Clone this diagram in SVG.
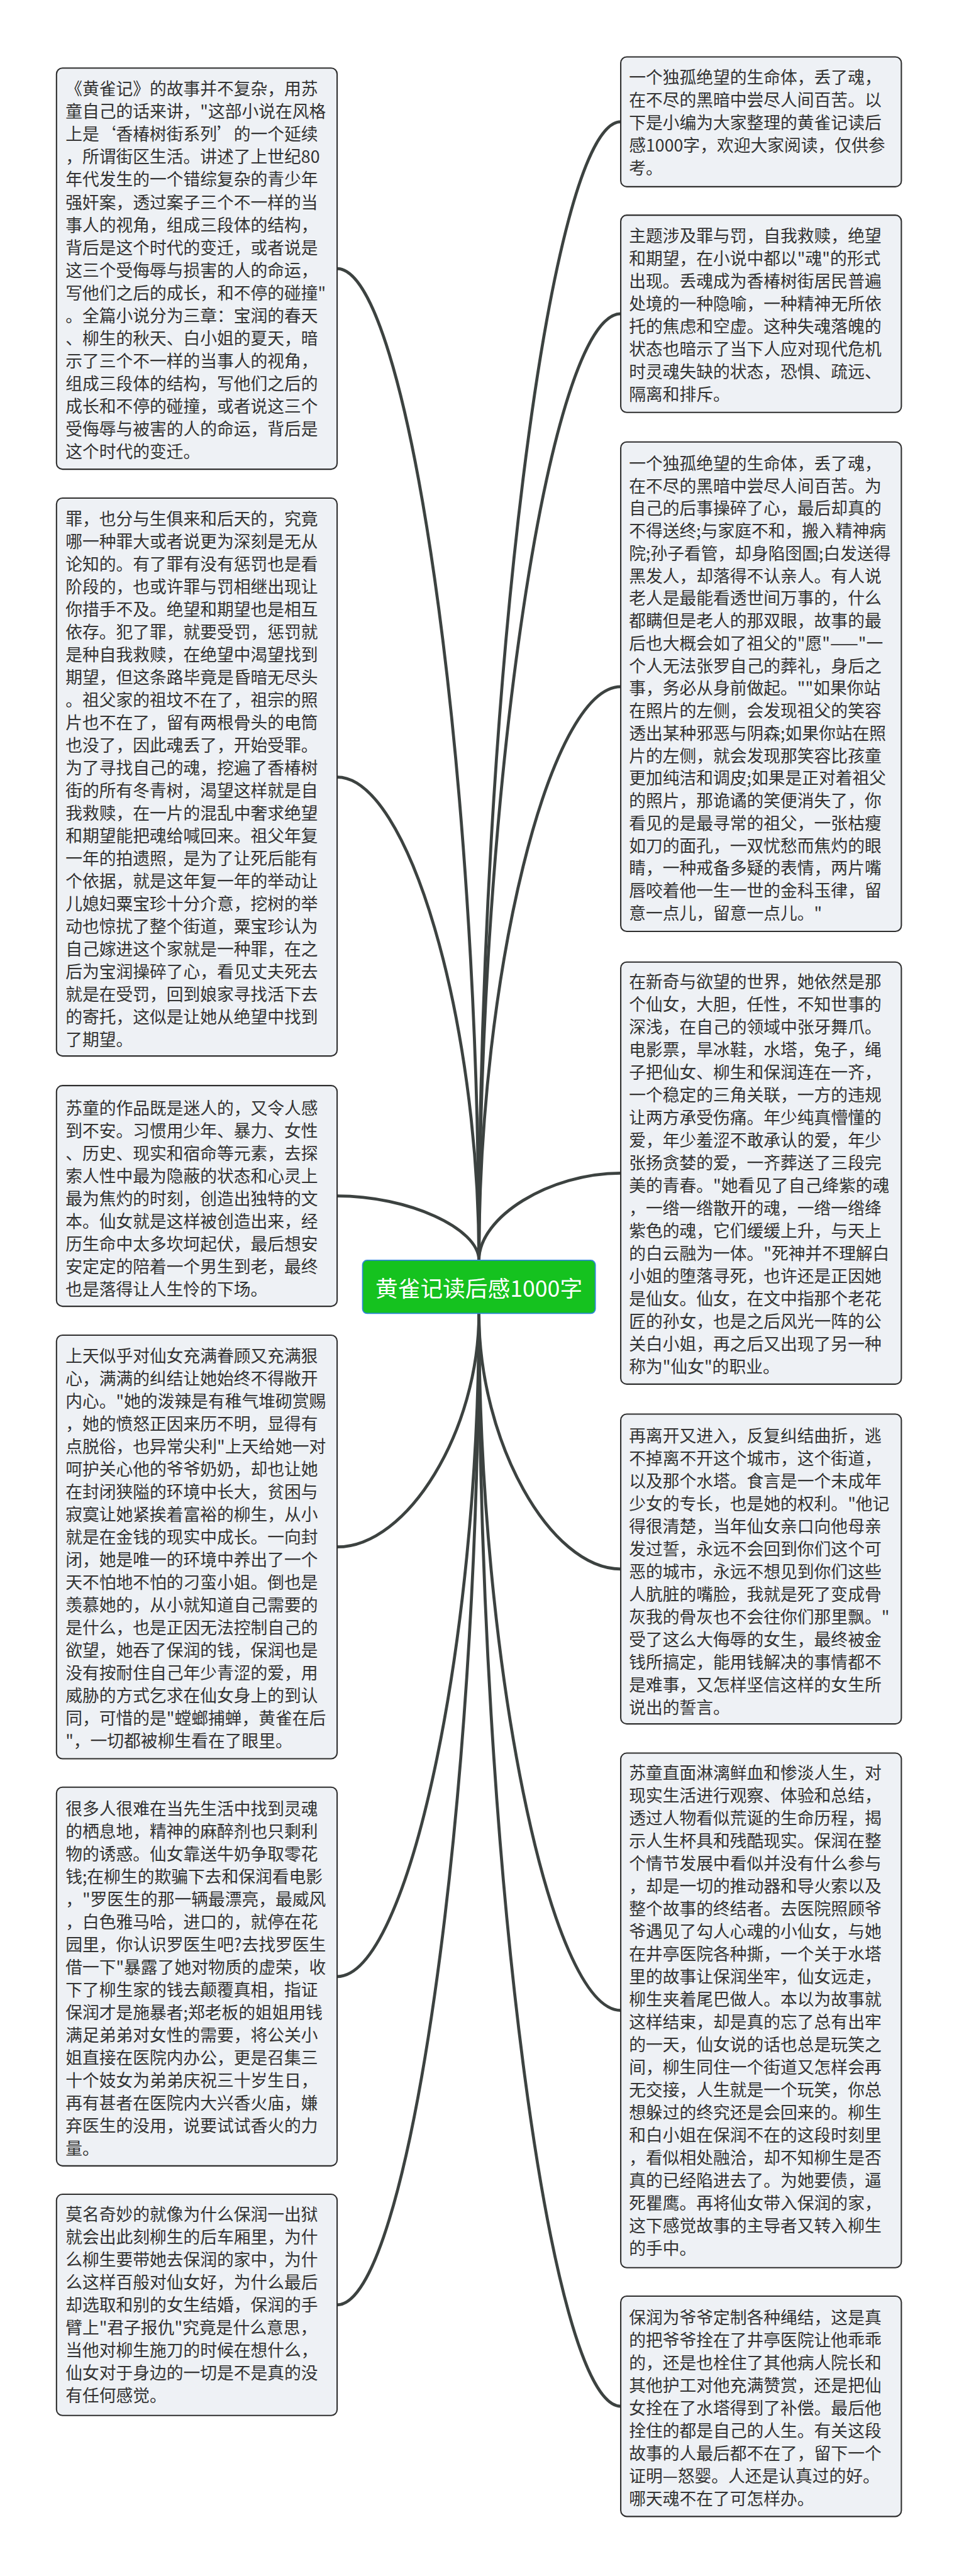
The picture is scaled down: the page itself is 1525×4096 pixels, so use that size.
<svg xmlns="http://www.w3.org/2000/svg" width="1525" height="4096" viewBox="0 0 1525 4096">
<style>
.box{fill:#eef1f5;stroke:#2e2e2e;stroke-width:3.5}
.t{font-family:"Noto Sans CJK SC","Noto Sans",sans-serif;font-size:45px;fill:#333333;dominant-baseline:central}
.c{fill:none;stroke:#3c4240;stroke-width:8;stroke-linecap:round}
.root{fill:#15c21f;stroke:#2f86d8;stroke-width:3}
.rt{font-family:"Noto Sans CJK SC","Noto Sans",sans-serif;font-size:60px;fill:#ffffff;text-anchor:middle;dominant-baseline:central}
</style>
<rect width="1525" height="4096" fill="#ffffff"/>
<g transform="scale(0.595)">
<g id="connectors">
<path class="c" d="M901,718 C1090.5,718 1280,2043 1280,3368"/>
<path class="c" d="M901,2076.5 C1090.5,2076.5 1280,2722 1280,3368"/>
<path class="c" d="M901,3196 C1090.5,3196 1280,3282 1280,3368"/>
<path class="c" d="M901,4134 C1090.5,4134 1280,3822 1280,3510"/>
<path class="c" d="M901,5282 C1090.5,5282 1280,4396 1280,3510"/>
<path class="c" d="M901,6159.5 C1090.5,6159.5 1280,4834.75 1280,3510"/>
<path class="c" d="M1659,325.5 C1469.5,325.5 1280,1846.75 1280,3368"/>
<path class="c" d="M1659,838.5 C1469.5,838.5 1280,2103.25 1280,3368"/>
<path class="c" d="M1659,1835 C1469.5,1835 1280,2601.5 1280,3368"/>
<path class="c" d="M1659,3135 C1469.5,3135 1280,3251.5 1280,3368"/>
<path class="c" d="M1659,4193 C1469.5,4193 1280,3851.5 1280,3510"/>
<path class="c" d="M1659,5372.5 C1469.5,5372.5 1280,4441.25 1280,3510"/>
<path class="c" d="M1659,6430.5 C1469.5,6430.5 1280,4970.25 1280,3510"/>
</g>
<g id="root">
<rect class="root" x="969" y="3368" width="622" height="142" rx="12"/>
<text class="rt" x="1280" y="3439">黄雀记读后感1000字</text>
</g>
<g id="L1">
<rect class="box" x="151" y="182" width="750" height="1072" rx="16"/>
<text class="t" x="175" y="234"><tspan x="175" dy="0">《黄雀记》的故事并不复杂，用苏</tspan><tspan x="175" dy="60.6">童自己的话来讲，"这部小说在风格</tspan><tspan x="175" dy="60.6">上是‘香椿树街系列’的一个延续</tspan><tspan x="175" dy="60.6">，所谓街区生活。讲述了上世纪80</tspan><tspan x="175" dy="60.6">年代发生的一个错综复杂的青少年</tspan><tspan x="175" dy="60.6">强奸案，透过案子三个不一样的当</tspan><tspan x="175" dy="60.6">事人的视角，组成三段体的结构，</tspan><tspan x="175" dy="60.6">背后是这个时代的变迁，或者说是</tspan><tspan x="175" dy="60.6">这三个受侮辱与损害的人的命运，</tspan><tspan x="175" dy="60.6">写他们之后的成长，和不停的碰撞"</tspan><tspan x="175" dy="60.6">。全篇小说分为三章：宝润的春天</tspan><tspan x="175" dy="60.6">、柳生的秋天、白小姐的夏天，暗</tspan><tspan x="175" dy="60.6">示了三个不一样的当事人的视角，</tspan><tspan x="175" dy="60.6">组成三段体的结构，写他们之后的</tspan><tspan x="175" dy="60.6">成长和不停的碰撞，或者说这三个</tspan><tspan x="175" dy="60.6">受侮辱与被害的人的命运，背后是</tspan><tspan x="175" dy="60.6">这个时代的变迁。</tspan></text>
</g>
<g id="L2">
<rect class="box" x="151" y="1331" width="750" height="1491" rx="16"/>
<text class="t" x="175" y="1383"><tspan x="175" dy="0">罪，也分与生俱来和后天的，究竟</tspan><tspan x="175" dy="60.5">哪一种罪大或者说更为深刻是无从</tspan><tspan x="175" dy="60.5">论知的。有了罪有没有惩罚也是看</tspan><tspan x="175" dy="60.5">阶段的，也或许罪与罚相继出现让</tspan><tspan x="175" dy="60.5">你措手不及。绝望和期望也是相互</tspan><tspan x="175" dy="60.5">依存。犯了罪，就要受罚，惩罚就</tspan><tspan x="175" dy="60.5">是种自我救赎，在绝望中渴望找到</tspan><tspan x="175" dy="60.5">期望，但这条路毕竟是昏暗无尽头</tspan><tspan x="175" dy="60.5">。祖父家的祖坟不在了，祖宗的照</tspan><tspan x="175" dy="60.5">片也不在了，留有两根骨头的电筒</tspan><tspan x="175" dy="60.5">也没了，因此魂丢了，开始受罪。</tspan><tspan x="175" dy="60.5">为了寻找自己的魂，挖遍了香椿树</tspan><tspan x="175" dy="60.5">街的所有冬青树，渴望这样就是自</tspan><tspan x="175" dy="60.5">我救赎，在一片的混乱中奢求绝望</tspan><tspan x="175" dy="60.5">和期望能把魂给喊回来。祖父年复</tspan><tspan x="175" dy="60.5">一年的拍遗照，是为了让死后能有</tspan><tspan x="175" dy="60.5">个依据，就是这年复一年的举动让</tspan><tspan x="175" dy="60.5">儿媳妇粟宝珍十分介意，挖树的举</tspan><tspan x="175" dy="60.5">动也惊扰了整个街道，粟宝珍认为</tspan><tspan x="175" dy="60.5">自己嫁进这个家就是一种罪，在之</tspan><tspan x="175" dy="60.5">后为宝润操碎了心，看见丈夫死去</tspan><tspan x="175" dy="60.5">就是在受罚，回到娘家寻找活下去</tspan><tspan x="175" dy="60.5">的寄托，这似是让她从绝望中找到</tspan><tspan x="175" dy="60.5">了期望。</tspan></text>
</g>
<g id="L3">
<rect class="box" x="151" y="2901" width="750" height="590" rx="16"/>
<text class="t" x="175" y="2958"><tspan x="175" dy="0">苏童的作品既是迷人的，又令人感</tspan><tspan x="175" dy="60.5">到不安。习惯用少年、暴力、女性</tspan><tspan x="175" dy="60.5">、历史、现实和宿命等元素，去探</tspan><tspan x="175" dy="60.5">索人性中最为隐蔽的状态和心灵上</tspan><tspan x="175" dy="60.5">最为焦灼的时刻，创造出独特的文</tspan><tspan x="175" dy="60.5">本。仙女就是这样被创造出来，经</tspan><tspan x="175" dy="60.5">历生命中太多坎坷起伏，最后想安</tspan><tspan x="175" dy="60.5">安定定的陪着一个男生到老，最终</tspan><tspan x="175" dy="60.5">也是落得让人生怜的下场。</tspan></text>
</g>
<g id="L4">
<rect class="box" x="151" y="3568" width="750" height="1132" rx="16"/>
<text class="t" x="175" y="3620"><tspan x="175" dy="0">上天似乎对仙女充满眷顾又充满狠</tspan><tspan x="175" dy="60.5">心，满满的纠结让她始终不得敞开</tspan><tspan x="175" dy="60.5">内心。"她的泼辣是有稚气堆砌赏赐</tspan><tspan x="175" dy="60.5">，她的愤怒正因来历不明，显得有</tspan><tspan x="175" dy="60.5">点脱俗，也异常尖利"上天给她一对</tspan><tspan x="175" dy="60.5">呵护关心他的爷爷奶奶，却也让她</tspan><tspan x="175" dy="60.5">在封闭狭隘的环境中长大，贫困与</tspan><tspan x="175" dy="60.5">寂寞让她紧挨着富裕的柳生，从小</tspan><tspan x="175" dy="60.5">就是在金钱的现实中成长。一向封</tspan><tspan x="175" dy="60.5">闭，她是唯一的环境中养出了一个</tspan><tspan x="175" dy="60.5">天不怕地不怕的刁蛮小姐。倒也是</tspan><tspan x="175" dy="60.5">羡慕她的，从小就知道自己需要的</tspan><tspan x="175" dy="60.5">是什么，也是正因无法控制自己的</tspan><tspan x="175" dy="60.5">欲望，她吞了保润的钱，保润也是</tspan><tspan x="175" dy="60.5">没有按耐住自己年少青涩的爱，用</tspan><tspan x="175" dy="60.5">威胁的方式乞求在仙女身上的到认</tspan><tspan x="175" dy="60.5">同，可惜的是"螳螂捕蝉，黄雀在后</tspan><tspan x="175" dy="60.5">"，一切都被柳生看在了眼里。</tspan></text>
</g>
<g id="L5">
<rect class="box" x="151" y="4776" width="750" height="1012" rx="16"/>
<text class="t" x="175" y="4830"><tspan x="175" dy="0">很多人很难在当先生活中找到灵魂</tspan><tspan x="175" dy="60.5">的栖息地，精神的麻醉剂也只剩利</tspan><tspan x="175" dy="60.5">物的诱惑。仙女靠送牛奶争取零花</tspan><tspan x="175" dy="60.5">钱;在柳生的欺骗下去和保润看电影</tspan><tspan x="175" dy="60.5">，"罗医生的那一辆最漂亮，最威风</tspan><tspan x="175" dy="60.5">，白色雅马哈，进口的，就停在花</tspan><tspan x="175" dy="60.5">园里，你认识罗医生吧?去找罗医生</tspan><tspan x="175" dy="60.5">借一下"暴露了她对物质的虚荣，收</tspan><tspan x="175" dy="60.5">下了柳生家的钱去颠覆真相，指证</tspan><tspan x="175" dy="60.5">保润才是施暴者;郑老板的姐姐用钱</tspan><tspan x="175" dy="60.5">满足弟弟对女性的需要，将公关小</tspan><tspan x="175" dy="60.5">姐直接在医院内办公，更是召集三</tspan><tspan x="175" dy="60.5">十个妓女为弟弟庆祝三十岁生日，</tspan><tspan x="175" dy="60.5">再有甚者在医院内大兴香火庙，嫌</tspan><tspan x="175" dy="60.5">弃医生的没用，说要试试香火的力</tspan><tspan x="175" dy="60.5">量。</tspan></text>
</g>
<g id="L6">
<rect class="box" x="151" y="5864" width="750" height="591" rx="16"/>
<text class="t" x="175" y="5914"><tspan x="175" dy="0">莫名奇妙的就像为什么保润一出狱</tspan><tspan x="175" dy="60.5">就会出此刻柳生的后车厢里，为什</tspan><tspan x="175" dy="60.5">么柳生要带她去保润的家中，为什</tspan><tspan x="175" dy="60.5">么这样百般对仙女好，为什么最后</tspan><tspan x="175" dy="60.5">却选取和别的女生结婚，保润的手</tspan><tspan x="175" dy="60.5">臂上"君子报仇"究竟是什么意思，</tspan><tspan x="175" dy="60.5">当他对柳生施刀的时候在想什么，</tspan><tspan x="175" dy="60.5">仙女对于身边的一切是不是真的没</tspan><tspan x="175" dy="60.5">有任何感觉。</tspan></text>
</g>
<g id="R1">
<rect class="box" x="1659" y="152" width="750" height="347" rx="16"/>
<text class="t" x="1681" y="203"><tspan x="1681" dy="0">一个独孤绝望的生命体，丢了魂，</tspan><tspan x="1681" dy="60.5">在不尽的黑暗中尝尽人间百苦。以</tspan><tspan x="1681" dy="60.5">下是小编为大家整理的黄雀记读后</tspan><tspan x="1681" dy="60.5">感1000字，欢迎大家阅读，仅供参</tspan><tspan x="1681" dy="60.5">考。</tspan></text>
</g>
<g id="R2">
<rect class="box" x="1659" y="575" width="750" height="527" rx="16"/>
<text class="t" x="1681" y="627"><tspan x="1681" dy="0">主题涉及罪与罚，自我救赎，绝望</tspan><tspan x="1681" dy="60.5">和期望，在小说中都以"魂"的形式</tspan><tspan x="1681" dy="60.5">出现。丢魂成为香椿树街居民普遍</tspan><tspan x="1681" dy="60.5">处境的一种隐喻，一种精神无所依</tspan><tspan x="1681" dy="60.5">托的焦虑和空虚。这种失魂落魄的</tspan><tspan x="1681" dy="60.5">状态也暗示了当下人应对现代危机</tspan><tspan x="1681" dy="60.5">时灵魂失缺的状态，恐惧、疏远、</tspan><tspan x="1681" dy="60.5">隔离和排斥。</tspan></text>
</g>
<g id="R3">
<rect class="box" x="1659" y="1181" width="750" height="1308" rx="16"/>
<text class="t" x="1681" y="1235"><tspan x="1681" dy="0">一个独孤绝望的生命体，丢了魂，</tspan><tspan x="1681" dy="60.1">在不尽的黑暗中尝尽人间百苦。为</tspan><tspan x="1681" dy="60.1">自己的后事操碎了心，最后却真的</tspan><tspan x="1681" dy="60.1">不得送终;与家庭不和，搬入精神病</tspan><tspan x="1681" dy="60.1">院;孙子看管，却身陷囹圄;白发送得</tspan><tspan x="1681" dy="60.1">黑发人，却落得不认亲人。有人说</tspan><tspan x="1681" dy="60.1">老人是最能看透世间万事的，什么</tspan><tspan x="1681" dy="60.1">都瞒但是老人的那双眼，故事的最</tspan><tspan x="1681" dy="60.1">后也大概会如了祖父的"愿"——"一</tspan><tspan x="1681" dy="60.1">个人无法张罗自己的葬礼，身后之</tspan><tspan x="1681" dy="60.1">事，务必从身前做起。""如果你站</tspan><tspan x="1681" dy="60.1">在照片的左侧，会发现祖父的笑容</tspan><tspan x="1681" dy="60.1">透出某种邪恶与阴森;如果你站在照</tspan><tspan x="1681" dy="60.1">片的左侧，就会发现那笑容比孩童</tspan><tspan x="1681" dy="60.1">更加纯洁和调皮;如果是正对着祖父</tspan><tspan x="1681" dy="60.1">的照片，那诡谲的笑便消失了，你</tspan><tspan x="1681" dy="60.1">看见的是最寻常的祖父，一张枯瘦</tspan><tspan x="1681" dy="60.1">如刀的面孔，一双忧愁而焦灼的眼</tspan><tspan x="1681" dy="60.1">睛，一种戒备多疑的表情，两片嘴</tspan><tspan x="1681" dy="60.1">唇咬着他一生一世的金科玉律，留</tspan><tspan x="1681" dy="60.1">意一点儿，留意一点儿。"</tspan></text>
</g>
<g id="R4">
<rect class="box" x="1659" y="2571" width="750" height="1128" rx="16"/>
<text class="t" x="1681" y="2621"><tspan x="1681" dy="0">在新奇与欲望的世界，她依然是那</tspan><tspan x="1681" dy="60.5">个仙女，大胆，任性，不知世事的</tspan><tspan x="1681" dy="60.5">深浅，在自己的领域中张牙舞爪。</tspan><tspan x="1681" dy="60.5">电影票，旱冰鞋，水塔，兔子，绳</tspan><tspan x="1681" dy="60.5">子把仙女、柳生和保润连在一齐，</tspan><tspan x="1681" dy="60.5">一个稳定的三角关联，一方的违规</tspan><tspan x="1681" dy="60.5">让两方承受伤痛。年少纯真懵懂的</tspan><tspan x="1681" dy="60.5">爱，年少羞涩不敢承认的爱，年少</tspan><tspan x="1681" dy="60.5">张扬贪婪的爱，一齐葬送了三段完</tspan><tspan x="1681" dy="60.5">美的青春。"她看见了自己绛紫的魂</tspan><tspan x="1681" dy="60.5">，一绺一绺散开的魂，一绺一绺绛</tspan><tspan x="1681" dy="60.5">紫色的魂，它们缓缓上升，与天上</tspan><tspan x="1681" dy="60.5">的白云融为一体。"死神并不理解白</tspan><tspan x="1681" dy="60.5">小姐的堕落寻死，也许还是正因她</tspan><tspan x="1681" dy="60.5">是仙女。仙女，在文中指那个老花</tspan><tspan x="1681" dy="60.5">匠的孙女，也是之后风光一阵的公</tspan><tspan x="1681" dy="60.5">关白小姐，再之后又出现了另一种</tspan><tspan x="1681" dy="60.5">称为"仙女"的职业。</tspan></text>
</g>
<g id="R5">
<rect class="box" x="1659" y="3779" width="750" height="828" rx="16"/>
<text class="t" x="1681" y="3833"><tspan x="1681" dy="0">再离开又进入，反复纠结曲折，逃</tspan><tspan x="1681" dy="60.5">不掉离不开这个城市，这个街道，</tspan><tspan x="1681" dy="60.5">以及那个水塔。食言是一个未成年</tspan><tspan x="1681" dy="60.5">少女的专长，也是她的权利。"他记</tspan><tspan x="1681" dy="60.5">得很清楚，当年仙女亲口向他母亲</tspan><tspan x="1681" dy="60.5">发过誓，永远不会回到你们这个可</tspan><tspan x="1681" dy="60.5">恶的城市，永远不想见到你们这些</tspan><tspan x="1681" dy="60.5">人肮脏的嘴脸，我就是死了变成骨</tspan><tspan x="1681" dy="60.5">灰我的骨灰也不会往你们那里飘。"</tspan><tspan x="1681" dy="60.5">受了这么大侮辱的女生，最终被金</tspan><tspan x="1681" dy="60.5">钱所搞定，能用钱解决的事情都不</tspan><tspan x="1681" dy="60.5">是难事，又怎样坚信这样的女生所</tspan><tspan x="1681" dy="60.5">说出的誓言。</tspan></text>
</g>
<g id="R6">
<rect class="box" x="1659" y="4685" width="750" height="1375" rx="16"/>
<text class="t" x="1681" y="4734"><tspan x="1681" dy="0">苏童直面淋漓鲜血和惨淡人生，对</tspan><tspan x="1681" dy="60.5">现实生活进行观察、体验和总结，</tspan><tspan x="1681" dy="60.5">透过人物看似荒诞的生命历程，揭</tspan><tspan x="1681" dy="60.5">示人生杯具和残酷现实。保润在整</tspan><tspan x="1681" dy="60.5">个情节发展中看似并没有什么参与</tspan><tspan x="1681" dy="60.5">，却是一切的推动器和导火索以及</tspan><tspan x="1681" dy="60.5">整个故事的终结者。去医院照顾爷</tspan><tspan x="1681" dy="60.5">爷遇见了勾人心魂的小仙女，与她</tspan><tspan x="1681" dy="60.5">在井亭医院各种撕，一个关于水塔</tspan><tspan x="1681" dy="60.5">里的故事让保润坐牢，仙女远走，</tspan><tspan x="1681" dy="60.5">柳生夹着尾巴做人。本以为故事就</tspan><tspan x="1681" dy="60.5">这样结束，却是真的忘了总有出牢</tspan><tspan x="1681" dy="60.5">的一天，仙女说的话也总是玩笑之</tspan><tspan x="1681" dy="60.5">间，柳生同住一个街道又怎样会再</tspan><tspan x="1681" dy="60.5">无交接，人生就是一个玩笑，你总</tspan><tspan x="1681" dy="60.5">想躲过的终究还是会回来的。柳生</tspan><tspan x="1681" dy="60.5">和白小姐在保润不在的这段时刻里</tspan><tspan x="1681" dy="60.5">，看似相处融洽，却不知柳生是否</tspan><tspan x="1681" dy="60.5">真的已经陷进去了。为她要债，逼</tspan><tspan x="1681" dy="60.5">死瞿鹰。再将仙女带入保润的家，</tspan><tspan x="1681" dy="60.5">这下感觉故事的主导者又转入柳生</tspan><tspan x="1681" dy="60.5">的手中。</tspan></text>
</g>
<g id="R7">
<rect class="box" x="1659" y="6136" width="750" height="589" rx="16"/>
<text class="t" x="1681" y="6190"><tspan x="1681" dy="0">保润为爷爷定制各种绳结，这是真</tspan><tspan x="1681" dy="60.5">的把爷爷拴在了井亭医院让他乖乖</tspan><tspan x="1681" dy="60.5">的，还是也栓住了其他病人院长和</tspan><tspan x="1681" dy="60.5">其他护工对他充满赞赏，还是把仙</tspan><tspan x="1681" dy="60.5">女拴在了水塔得到了补偿。最后他</tspan><tspan x="1681" dy="60.5">拴住的都是自己的人生。有关这段</tspan><tspan x="1681" dy="60.5">故事的人最后都不在了，留下一个</tspan><tspan x="1681" dy="60.5">证明—怒婴。人还是认真过的好。</tspan><tspan x="1681" dy="60.5">哪天魂不在了可怎样办。</tspan></text>
</g>
</g>
</svg>
